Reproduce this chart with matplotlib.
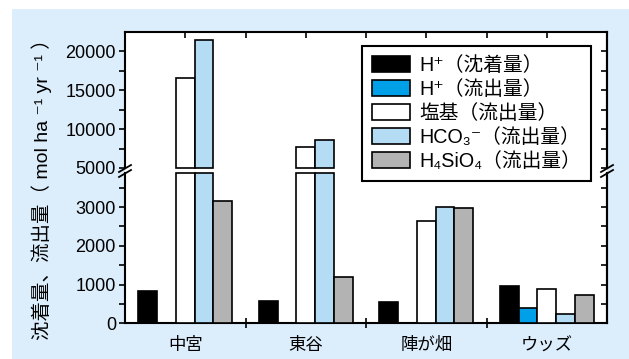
import matplotlib
matplotlib.use('Agg')
import matplotlib.pyplot as plt
from matplotlib.patches import Rectangle, Patch
from matplotlib.lines import Line2D
import numpy as np

plt.rcParams['font.family'] = ['Liberation Sans', 'Noto Sans CJK JP', 'DejaVu Sans']

sites = ['中宮', '東谷', '陣が畑', 'ウッズ']
labels = ['H⁺（沈着量）', 'H⁺（流出量）', '塩基（流出量）', 'HCO₃⁻（流出量）', 'H₄SiO₄（流出量）']
colors = ['#000000', '#00a0e9', '#ffffff', '#b5dcf5', '#b3b3b3']

h_dep = [830, 570, 540, 960]
h_out = [0, 0, 0, 400]
base_out = [16600, 7700, 2650, 890]
hco3_out = [21500, 8550, 3000, 230]
si_out = [3150, 1200, 2980, 720]
series = [h_dep, h_out, base_out, hco3_out, si_out]

W, H = 629, 359
low_top = 3880
up_bot, up_top = 5000, 22500

fig = plt.figure(figsize=(W / 100, H / 100), dpi=100)
fig.patches.append(Rectangle((12 / W, 0), 1, 1 - 9 / H, transform=fig.transFigure,
                             facecolor='#dcedfb', edgecolor='none', zorder=-10))

left, right = 125 / W, 607 / W
# white plot area behind both panels (covers the gap at the break)
fig.patches.append(Rectangle((left, 1 - 323.3 / H), right - left, (323.3 - 32) / H,
                             transform=fig.transFigure, facecolor='white',
                             edgecolor='none', zorder=-9))
ax_u = fig.add_axes([left, 1 - 168 / H, right - left, (168 - 32) / H])
ax_l = fig.add_axes([left, 1 - 323.3 / H, right - left, (323.3 - 173) / H])

x = np.arange(len(sites))
bw = 0.156
for i, (vals, c) in enumerate(zip(series, colors)):
    vals = np.array(vals, dtype=float)
    xs = x + (i - 2) * bw
    m = vals > 0
    ax_l.bar(xs[m], np.minimum(vals[m], low_top), bw, color=c, edgecolor='black',
             linewidth=1.2, clip_on=False, zorder=3)
    mu = vals > up_bot
    ax_u.bar(xs[mu], vals[mu] - up_bot, bw, bottom=up_bot, color=c, edgecolor='black',
             linewidth=1.2, clip_on=False, zorder=3)

ax_u.set_ylim(up_bot, up_top)
ax_l.set_ylim(0, low_top)
major = {ax_u: [5000, 10000, 15000, 20000], ax_l: [0, 1000, 2000, 3000]}
minor = {ax_u: [7500, 12500, 17500], ax_l: [500, 1500, 2500, 3500]}

for ax in (ax_u, ax_l):
    ax.set_xlim(-0.5, 3.5)
    for s in ax.spines.values():
        s.set_linewidth(1.5)
    ax.set_yticks(major[ax])
    ax.set_yticks(minor[ax], minor=True)
    ax.tick_params(axis='y', which='both', direction='out', length=4.5, width=1.2,
                   labelsize=13, pad=2)
    # right-side ticks point inward
    sec = ax.secondary_yaxis('right')
    sec.set_yticks(major[ax])
    sec.set_yticks(minor[ax], minor=True)
    sec.spines['right'].set_linewidth(1.5)
    sec.tick_params(which='both', direction='in', length=4.5, width=1.2, labelright=False)

ax_u.spines['bottom'].set_visible(False)
ax_u.xaxis.set_ticks_position('top')
ax_u.set_xticks([0, 0.5, 1, 1.5, 2, 2.5, 3])
ax_u.tick_params(axis='x', direction='in', length=4.5, width=1.2, labeltop=False)

ax_l.spines['top'].set_visible(False)
ax_l.set_xticks(x)
ax_l.set_xticklabels(sites)
ax_l.tick_params(axis='x', which='major', length=0, labelsize=12.5, pad=10)
ax_l.set_xticks([0.5, 1.5, 2.5], minor=True)
ax_l.tick_params(axis='x', which='minor', direction='inout', length=7, width=1.2)

# break marks
for px in (125, 607):
    for dy in (0, 5):
        fig.add_artist(Line2D([(px - 6) / W, (px + 6) / W],
                              [1 - (172 + dy) / H, 1 - (165 + dy) / H],
                              color='black', lw=1.3))

fig.text(42 / W, 1 - 184.5 / H, '沈着量、流出量（ mol ha ⁻¹ yr ⁻¹ ）', rotation=90,
         ha='center', va='center', fontsize=14)

handles = [Patch(facecolor=c, edgecolor='black', linewidth=1.2) for c in colors]
leg = fig.legend(handles, labels, loc='upper left',
                 bbox_to_anchor=(361.7 / W, 1 - 45.7 / H), borderaxespad=0,
                 fancybox=False, edgecolor='black', framealpha=1, fontsize=14.2,
                 handlelength=1.95, handleheight=0.9, handletextpad=0.45,
                 labelspacing=0.26, borderpad=0.5)
leg.get_frame().set_linewidth(1.5)

fig.savefig('out.png', dpi=100, facecolor='white')
